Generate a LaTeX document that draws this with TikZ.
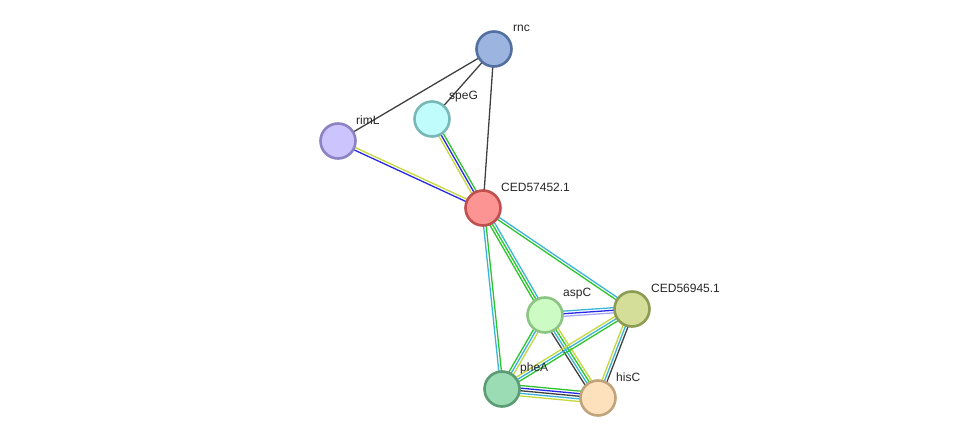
\documentclass[tikz,border=0pt]{standalone}
\usepackage{fontspec}
\setmainfont{Liberation Sans}
\usetikzlibrary{calc}
\definecolor{eblack}{HTML}{404040}
\definecolor{egreen}{HTML}{2CC42C}
\definecolor{ecyan}{HTML}{3CB4D8}
\definecolor{eyellow}{HTML}{C4D83C}
\definecolor{eblue}{HTML}{2828E8}
\definecolor{elav}{HTML}{A8A8F8}
\tikzset{
  prot/.style={circle, minimum size=35pt, inner sep=0pt, line width=2.6pt},
  plabel/.style={anchor=west, inner sep=0pt, font=\fontsize{12}{14}\selectfont, text=black!85},
  eline/.style={line width=1.3pt},
}
\newcommand\medge[4]{%
  \foreach \c [count=\i] in {#4} {%
    \pgfmathsetmacro\off{(\i-(#3+1)/2)*2.6}%
    \draw[eline, \c] ($(#1)!\off pt!90:(#2)$) -- ($(#2)!\off pt!-90:(#1)$);
  }%
}
\begin{document}
\begin{tikzpicture}[x=1pt,y=-1pt]
\useasboundingbox (0,0) rectangle (975,444);
\coordinate (rnc) at (494,49);
\coordinate (speG) at (432,119);
\coordinate (rimL) at (338,141);
\coordinate (ced1) at (483,208);
\coordinate (aspC) at (545,315);
\coordinate (ced2) at (632,309);
\coordinate (pheA) at (502,389);
\coordinate (hisC) at (598,398);
% edges
\medge{rnc}{rimL}{1}{eblack}
\medge{rnc}{speG}{1}{eblack}
\medge{rnc}{ced1}{1}{eblack}
\medge{speG}{ced1}{3}{eyellow,eblue,egreen}
\medge{rimL}{ced1}{2}{eblue,eyellow}
\medge{ced1}{aspC}{3}{egreen,egreen,ecyan}
\medge{ced1}{ced2}{2}{egreen,ecyan}
\medge{ced1}{pheA}{2}{ecyan,egreen}
\medge{aspC}{ced2}{3}{elav,eblue,ecyan}
\medge{aspC}{pheA}{3}{egreen,ecyan,eyellow}
\medge{aspC}{hisC}{4}{eblack,ecyan,egreen,eyellow}
\medge{ced2}{pheA}{3}{eyellow,ecyan,egreen}
\medge{ced2}{hisC}{3}{eyellow,ecyan,eblack}
\medge{pheA}{hisC}{5}{eyellow,ecyan,eblack,eblue,egreen}
% nodes
\node[prot, fill={rgb,255:red,156;green,180;blue,224}, draw={rgb,255:red,84;green,112;blue,160}] (n-rnc) at (rnc) {};
\node[prot, fill={rgb,255:red,192;green,252;blue,252}, draw={rgb,255:red,122;green,184;blue,184}] (n-speG) at (speG) {};
\node[prot, fill={rgb,255:red,204;green,196;blue,252}, draw={rgb,255:red,140;green,130;blue,196}] (n-rimL) at (rimL) {};
\node[prot, fill={rgb,255:red,252;green,148;blue,148}, draw={rgb,255:red,192;green,80;blue,80}] (n-ced1) at (ced1) {};
\node[prot, fill={rgb,255:red,204;green,252;blue,196}, draw={rgb,255:red,140;green,196;blue,132}] (n-aspC) at (aspC) {};
\node[prot, fill={rgb,255:red,212;green,222;blue,152}, draw={rgb,255:red,140;green,156;blue,84}] (n-ced2) at (ced2) {};
\node[prot, fill={rgb,255:red,156;green,220;blue,180}, draw={rgb,255:red,92;green,156;blue,116}] (n-pheA) at (pheA) {};
\node[prot, fill={rgb,255:red,253;green,224;blue,188}, draw={rgb,255:red,192;green,164;blue,124}] (n-hisC) at (hisC) {};
% labels
\node[plabel] (l-rnc) at ([shift={(19,-21)}]rnc) {rnc};
\node[plabel] (l-speG) at ([shift={(17,-22)}]speG) {speG};
\node[plabel] (l-rimL) at ([shift={(18,-21)}]rimL) {rimL};
\node[plabel] (l-ced1) at ([shift={(18,-21)}]ced1) {CED57452.1};
\node[plabel] (l-aspC) at ([shift={(18,-21)}]aspC) {aspC};
\node[plabel] (l-ced2) at ([shift={(19,-21)}]ced2) {CED56945.1};
\node[plabel] (l-pheA) at ([shift={(18,-21)}]pheA) {pheA};
\node[plabel] (l-hisC) at ([shift={(18,-21)}]hisC) {hisC};
\end{tikzpicture}
\end{document}
